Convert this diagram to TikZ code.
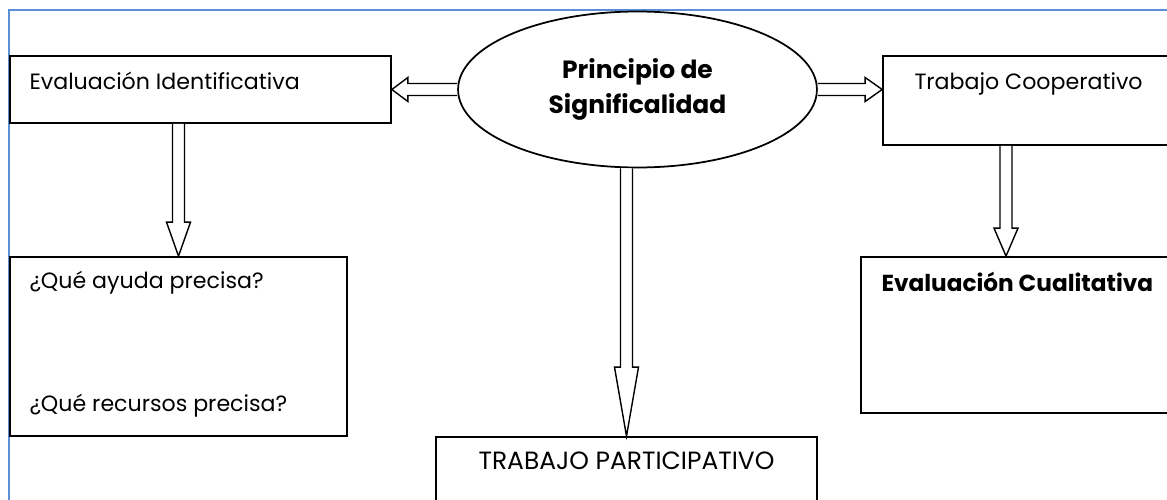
\documentclass[tikz,border=0pt]{standalone}
\usepackage{fontspec}
\setmainfont{Poppins}
\usepackage{xcolor}
\definecolor{frameBlue}{HTML}{5B8FD6}
\usetikzlibrary{shapes.geometric,positioning,calc}
\tikzset{
    box/.style={
        draw=black,
        fill=white,
        rectangle,
        line width=1pt,
        inner sep=0pt
    },
    oval/.style={
        draw=black,
        fill=white,
        ellipse,
        line width=1pt,
        inner sep=0pt,
        align=center,
        font=\fontsize{14.2}{19.5}\selectfont\bfseries
    },
    txt/.style={
        inner sep=0pt,
        font=\fontsize{12.6}{15}\selectfont
    },
    blockarrow/.style={
        draw=black,
        fill=white,
        line width=0.8pt,
        line join=miter
    }
}
% hollow block arrows: #1 start, #2 tip, #3 head length
\newcommand{\blockdown}[3]{%
    \draw[blockarrow] ($(#1)+(-6,0)$) -- ($(#2)+(-6,-#3)$) -- ($(#2)+(-12,-#3)$)
        -- (#2) -- ($(#2)+(12,-#3)$) -- ($(#2)+(6,-#3)$) -- ($(#1)+(6,0)$);}
\newcommand{\blockside}[3]{%
    \draw[blockarrow] ($(#1)+(0,-6)$) -- ($(#2)+(#3,-6)$) -- ($(#2)+(#3,-12)$)
        -- (#2) -- ($(#2)+(#3,12)$) -- ($(#2)+(#3,6)$) -- ($(#1)+(0,6)$);}

\begin{document}
\begin{tikzpicture}[x=0.02cm, y=-0.02cm]
    \useasboundingbox (0,0) rectangle (1167,500);
    % page frame
    \draw[frameBlue, line width=1.2pt] (9,500) -- (9,10) -- (1167,10);

    % central idea
    \node[oval, minimum width=7.18cm, minimum height=3.12cm] (ppio) at (637.5,89.5)
        {Principio de\\Significalidad};

    % boxes
    \node[box, minimum width=7.62cm, minimum height=1.34cm] (ident) at (200.5,89.5) {};
    \node[box, minimum width=6.74cm, minimum height=3.58cm] (needs) at (178.5,346.5) {};
    \node[box, minimum width=5.94cm, minimum height=1.78cm] (coop) at (1031.5,100.5) {};
    \node[box, minimum width=6.38cm, minimum height=3.12cm] (cual) at (1020.5,335) {};
    \node[box, minimum width=7.62cm, minimum height=1.66cm] (part) at (626.5,478.5) {};

    % box texts
    \node[txt, anchor=base west] (identlbl) at ($(ident.north west)+(20,34)$) {Evaluación Identificativa};
    \node[txt, anchor=base west] (ayuda) at ($(needs.north west)+(20,32)$) {¿Qué ayuda precisa?};
    \node[txt, anchor=base west] (recursos) at ($(needs.north west)+(20,155)$) {¿Qué recursos precisa?};
    \node[txt, anchor=base west] (cooplbl) at ($(coop.north west)+(32,34)$) {Trabajo Cooperativo};
    \node[txt, anchor=base west, font=\fontsize{13.2}{15}\selectfont\bfseries] (cuallbl)
        at ($(cual.north west)+(21,35)$) {Evaluación Cualitativa};
    \node[txt, anchor=base, font=\fontsize{14.2}{16}\selectfont] (partlbl)
        at ($(part.north)+(0,33)$) {TRABAJO PARTICIPATIVO};

    % arrow anchors
    \coordinate (identdrop) at (ident.south -| needs.north);
    \coordinate (ppiodrop) at (ppio.south -| part.north);
    \coordinate (cdrop) at (1006,0);
    \coordinate (coopin) at (coop.west |- ppio.east);

    % arrows
    \blockside{ppio.west}{ident.east}{16}
    \blockside{ppio.east}{coopin}{-17}
    \blockdown{identdrop}{needs.north}{34}
    \blockdown{ppiodrop}{part.north}{69}
    \blockdown{coop.south -| cdrop}{cual.north -| cdrop}{28}
\end{tikzpicture}
\end{document}
